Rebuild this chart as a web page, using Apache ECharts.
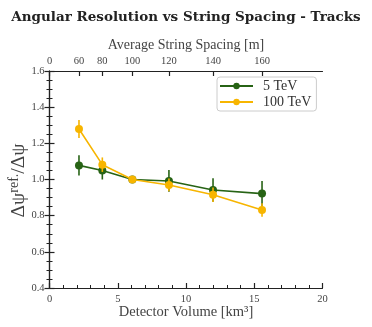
<!DOCTYPE html>
<html><head><meta charset="utf-8">
<script src="https://cdn.jsdelivr.net/npm/echarts@6/dist/echarts.min.js"></script>
<style>html,body{margin:0;padding:0;background:#fff}#c{width:372px;height:327px}</style>
</head><body><div id="c"></div>
<script>
const volumes = [2.16, 3.87, 6.07, 8.75, 11.98, 15.57];
const spacingLabels = ['60', '80', '100', '120', '140', '160'];
const res5 = [1.078, 1.05, 1.0, 0.992, 0.942, 0.922];
const err5 = [0.056, 0.05, 0.0, 0.06, 0.065, 0.07];
const res100 = [1.279, 1.082, 1.0, 0.97, 0.916, 0.831];
const err100 = [0.05, 0.04, 0.0, 0.035, 0.04, 0.037];
const seriesNames = ['5 TeV', '100 TeV'];
const colors = ['#276315', '#f7b500'];

const FONT = 'Liberation Serif';
const topTickPos = [0].concat(volumes);
const topTickText = ['0'].concat(spacingLabels);

function pts(vals){ return volumes.map((v,i)=>[v, vals[i]]); }
function errData(vals, errs){ return volumes.map((v,i)=>[v, vals[i]-errs[i], vals[i]+errs[i]]); }
function errSeries(vals, errs, color, z){
  return {
    type:'custom', xAxisIndex:0, yAxisIndex:0, z:z, silent:true,
    data: errData(vals, errs),
    renderItem: function(params, api){
      const lo = api.coord([api.value(0), api.value(1)]);
      const hi = api.coord([api.value(0), api.value(2)]);
      return {type:'line', shape:{x1:lo[0], y1:lo[1], x2:hi[0], y2:hi[1]},
              style:{stroke:color, lineWidth:1.6}};
    }
  };
}
const axisLineStyle = {color:'#222', width:1.2};
const labelStyle = {fontFamily:FONT, fontSize:10.5, color:'#444'};

const chart = echarts.init(document.getElementById('c'), null, {renderer:'canvas'});
chart.setOption({
  animation:false,
  backgroundColor:'#fff',
  title:{text:'Angular Resolution vs String Spacing - Tracks', left:'center', top:5,
    textStyle:{fontFamily:'DejaVu Serif', fontWeight:'bold', fontSize:13.5, color:'#222'}},
  grid:{left:49.5, right:49.5, top:71, bottom:39, containLabel:false, outerBoundsMode:'none'},
  legend:{
    data:seriesNames, orient:'vertical', left:217, top:77,
    itemWidth:33, itemHeight:8, itemGap:2, padding:[2,5,2,2],
    borderColor:'#ccc', borderWidth:1, borderRadius:3, backgroundColor:'#fff',
    textStyle:{fontFamily:FONT, fontSize:14, color:'#333', padding:[0,0,0,5]}
  },
  xAxis:[
    {type:'value', position:'bottom', min:0, max:20, interval:5,
     name:'Detector Volume [km³]', nameLocation:'middle', nameGap:17, nameMoveOverlap:false,
     nameTextStyle:{fontFamily:FONT, fontSize:14.5, color:'#444'},
     axisLine:{lineStyle:axisLineStyle},
     axisTick:{inside:true, length:5, lineStyle:axisLineStyle},
     minorTick:{show:true, splitNumber:5, length:3, lineStyle:{color:'#222', width:1}},
     axisLabel:Object.assign({margin:6}, labelStyle),
     splitLine:{show:false}},
    {type:'value', position:'top', min:0, max:20,
     name:'Average String Spacing [m]', nameLocation:'middle', nameGap:19, nameMoveOverlap:false,
     nameTextStyle:{fontFamily:FONT, fontSize:14, color:'#444'},
     axisLine:{lineStyle:axisLineStyle},
     axisTick:{inside:true, length:5, lineStyle:axisLineStyle, customValues:topTickPos},
     axisLabel:Object.assign({margin:4, customValues:topTickPos,
       formatter:function(v){ const i = topTickPos.findIndex(p=>Math.abs(p-v)<1e-6); return i>=0?topTickText[i]:''; }}, labelStyle),
     splitLine:{show:false}}
  ],
  yAxis:[
    {type:'value', position:'left', min:0.4, max:1.6, interval:0.2,
     name:'{a|Δψ}{s|ref.}{a|/Δψ}', nameLocation:'middle', nameGap:20, nameRotate:90, nameMoveOverlap:false,
     nameTextStyle:{padding:[0,2,0,0], rich:{a:{fontFamily:FONT, fontSize:19.5, color:'#444'},
                          s:{fontFamily:FONT, fontSize:14, color:'#444', verticalAlign:'top', padding:[0,0,8,0]}}},
     axisLine:{lineStyle:axisLineStyle},
     axisTick:{inside:true, length:5, lineStyle:axisLineStyle},
     minorTick:{show:true, splitNumber:4, length:3, lineStyle:{color:'#222', width:1}},
     axisLabel:Object.assign({margin:5, formatter:v=>v.toFixed(1)}, labelStyle),
     splitLine:{show:false}},
    {type:'value', position:'right', min:0.4, max:1.6, interval:0.2,
     axisLine:{lineStyle:axisLineStyle},
     axisTick:{inside:true, length:5, lineStyle:axisLineStyle},
     minorTick:{show:true, splitNumber:4, length:3, lineStyle:{color:'#222', width:1}},
     axisLabel:{show:false}, splitLine:{show:false}}
  ],
  series:[
    errSeries(res5, err5, colors[0], 2),
    {name:seriesNames[0], type:'line', xAxisIndex:0, yAxisIndex:0, z:3, data:pts(res5),
     symbol:'circle', symbolSize:8, lineStyle:{color:colors[0], width:1.6},
     itemStyle:{color:colors[0]}},
    errSeries(res100, err100, colors[1], 4),
    {name:seriesNames[1], type:'line', xAxisIndex:0, yAxisIndex:0, z:5, data:pts(res100),
     symbol:'circle', symbolSize:8, lineStyle:{color:colors[1], width:1.6},
     itemStyle:{color:colors[1]}}
  ]
});
</script></body></html>
